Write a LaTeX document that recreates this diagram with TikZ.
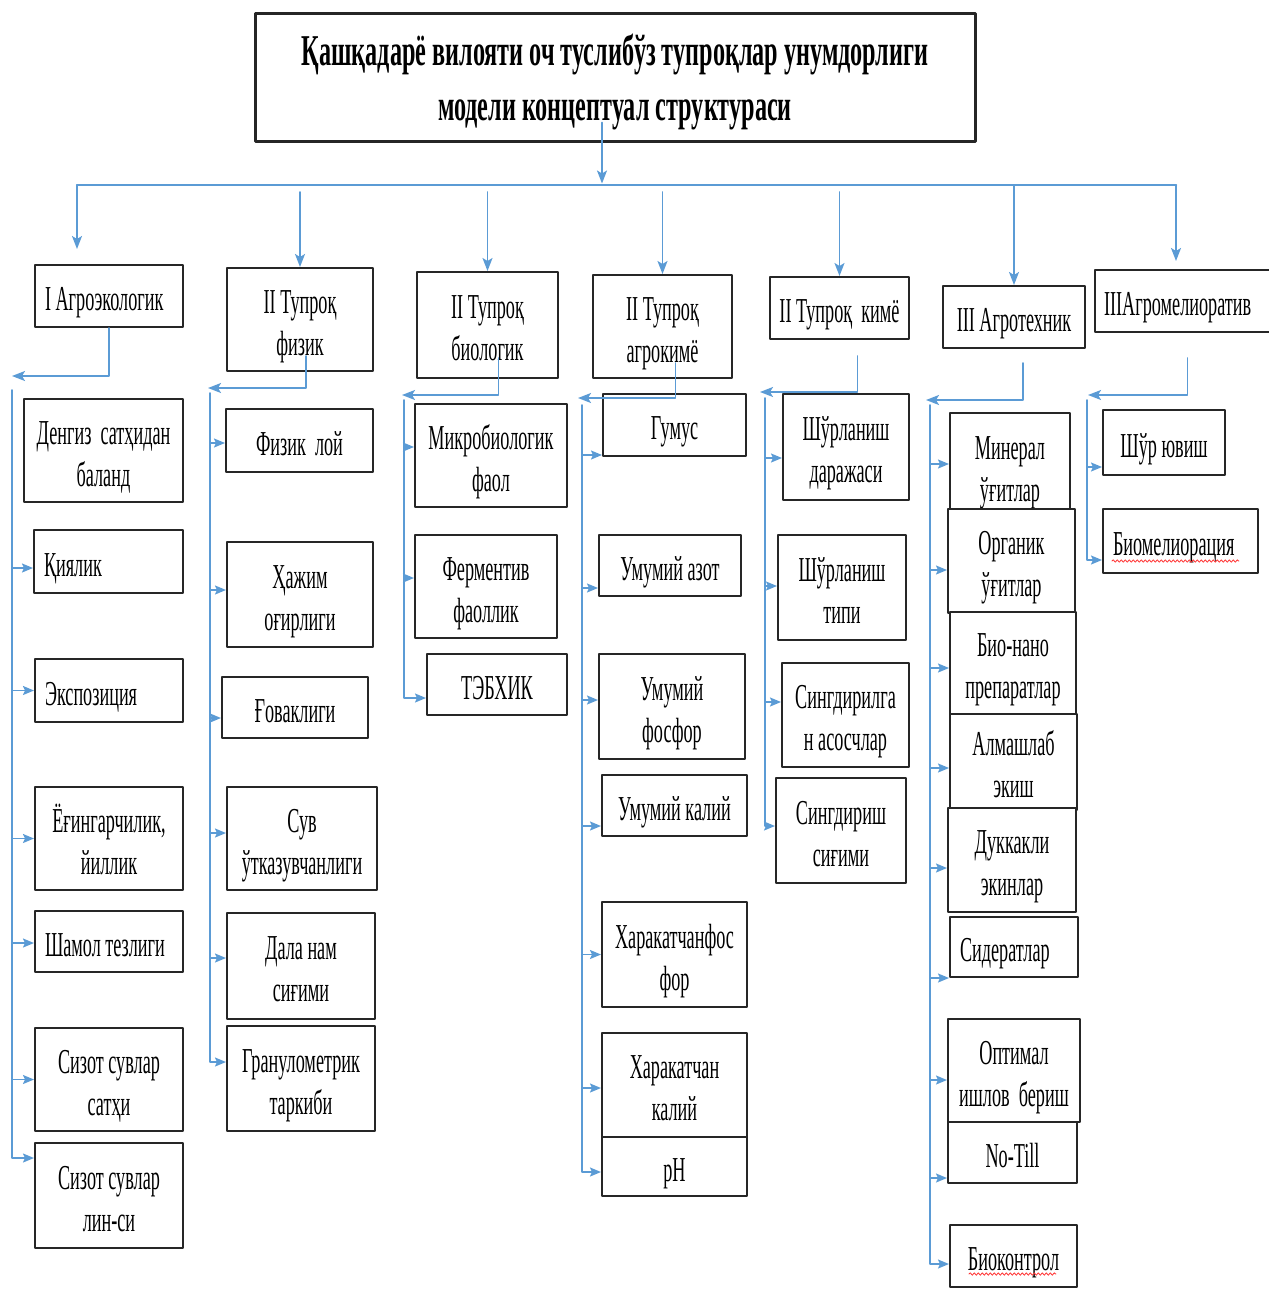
\documentclass[tikz,border=0pt]{standalone}
\usepackage{fontspec}
\setmainfont[FakeStretch=0.52]{Liberation Serif}
\newfontfamily\titlefam[FakeStretch=0.55]{Liberation Serif}
\usetikzlibrary{arrows.meta,calc,decorations.pathmorphing}
\definecolor{lnkblue}{RGB}{91,155,213}
\newcommand{\boxfont}{\fontsize{35}{42}\selectfont}
\newcommand{\headfont}{\titlefam\fontsize{44}{55}\selectfont\bfseries}

\begin{document}
\begin{tikzpicture}[line cap=round,line join=round,x=1pt,y=-1pt,
  >={Stealth[length=13pt,width=10pt,inset=3pt]},
  box/.style={draw=black!85,line width=2pt,fill=white,inner sep=2pt,align=center,font=\boxfont,
    execute at begin node={\rule{0pt}{37pt}},execute at end node={\rule[-8pt]{0pt}{0pt}}},
  two/.style={box,execute at begin node={\rule{0pt}{79pt}}},
  lbox/.style={box,align=flush left,inner xsep=10pt,text width=#1},
  link/.style={draw=lnkblue,line width=1.6pt},
  arr/.style={link,->},
  sarr/.style={link,-{Stealth[length=11pt,width=9pt,inset=2pt]}},
  wavy/.style={draw=red!80,line width=0.8pt,decorate,decoration={snake,amplitude=1.2pt,segment length=4pt}}]
	\useasboundingbox (0,0) rectangle (1269,1312);
	\clip (0,0) rectangle (1269,1312);
	% title and headings
	\node[box,line width=3pt,minimum width=720pt,minimum height=128pt,font=\headfont,
	  execute at begin node={\rule{0pt}{97pt}}] (title) at (615,77) {Қашқадарё вилояти оч туслибўз тупроқлар унумдорлиги\\модели концептуал структураси};
	\node[lbox=128pt,minimum height=62pt] (agroeco) at (109,296) {I Агроэкологик};
	\node[two,minimum width=146pt,minimum height=103pt] (tupfiz) at (300,319.5) {II Тупроқ\\физик};
	\node[two,minimum width=141pt,minimum height=106pt] (tupbio) at (487.5,325) {II Тупроқ\\биологик};
	\node[two,minimum width=139pt,minimum height=103pt] (tupagro) at (662.5,326.5) {II Тупроқ\\агрокимё};
	\node[box,minimum width=139pt,minimum height=62pt] (tupkim) at (839.5,308) {II Тупроқ\ \ кимё};
	\node[box,minimum width=142pt,minimum height=62pt] (agrotex) at (1014,317) {III Агротехник};
	\node[lbox=167pt,inner xsep=9pt,minimum height=62pt] (agromel) at (1187.5,301) {IIIАгромелиоратив};
	% I
	\node[two,minimum width=159pt,minimum height=103pt] (dengiz) at (103.5,450.5) {Денгиз\ \ сатҳидан\\баланд};
	\node[lbox=129pt,minimum height=63pt] (qiyalik) at (108.5,561.5) {Қиялик};
	\node[lbox=128pt,minimum height=63pt] (ekspoz) at (109,690.5) {Экспозиция};
	\node[two,minimum width=148pt,minimum height=103pt] (yogin) at (109,838.5) {Ёғингарчилик,\\йиллик};
	\node[lbox=128pt,minimum height=61pt] (shamol) at (109,941.5) {Шамол тезлиги};
	\node[two,minimum width=148pt,minimum height=103pt] (sizotA) at (109,1079.5) {Сизот сувлар\\сатҳи};
	\node[two,minimum width=148pt,minimum height=105pt] (sizotB) at (109,1195.5) {Сизот сувлар\\лин-си};
	% II physical
	\node[box,minimum width=147pt,minimum height=63pt] (fizlo) at (299.5,440.5) {Физик\ \ лой};
	\node[two,minimum width=146pt,minimum height=105pt] (hajm) at (300,594.5) {Ҳажим\\оғирлиги};
	\node[box,minimum width=146pt,minimum height=61pt] (govak) at (295,707.5) {Ғоваклиги};
	\node[two,minimum width=150pt,minimum height=103pt] (suv) at (302,838.5) {Сув\\ўтказувчанлиги};
	\node[two,minimum width=148pt,minimum height=106pt] (dala) at (301,966) {Дала нам\\сиғими};
	\node[two,minimum width=148pt,minimum height=105pt] (granulo) at (301,1078.5) {Гранулометрик\\таркиби};
	% II biological
	\node[two,minimum width=152pt,minimum height=103pt] (mikro) at (491,455.5) {Микробиологик\\фаол};
	\node[two,minimum width=142pt,minimum height=103pt] (ferment) at (486,586.5) {Ферментив\\фаоллик};
	\node[box,minimum width=140pt,minimum height=61pt] (tebhik) at (497,684.5) {ТЭБХИК};
	% II agrochemical
	\node[box,minimum width=143pt,minimum height=62pt] (gumus) at (674.5,425) {Гумус};
	\node[box,minimum width=142pt,minimum height=61pt] (azot) at (670,565.5) {Умумий азот};
	\node[two,minimum width=146pt,minimum height=105pt] (fosfor) at (672,706.5) {Умумий\\фосфор};
	\node[box,minimum width=145pt,minimum height=61pt] (kaliy) at (674.5,805.5) {Умумий калий};
	\node[two,minimum width=145pt,minimum height=105pt] (hfosfor) at (674.5,954.5) {Харакатчанфос\\фор};
	\node[two,minimum width=145pt,minimum height=104pt] (hkaliy) at (674.5,1085) {Харакатчан\\калий};
	\node[box,minimum width=145pt,minimum height=59pt] (ph) at (674.5,1166.5) {pH};
	% II chemical
	\node[two,minimum width=126pt,minimum height=106pt] (shdaraja) at (846,447) {Шўрланиш\\даражаси};
	\node[two,minimum width=128pt,minimum height=105pt] (shtip) at (842,587.5) {Шўрланиш\\типи};
	\node[two,minimum width=127pt,minimum height=104pt] (singasos) at (845.5,715) {Сингдирилга\\н асосчлар};
	\node[two,minimum width=130pt,minimum height=105pt] (singsig) at (841,830.5) {Сингдириш\\сиғими};
	% III agrotechnical
	\node[two,minimum width=120pt,minimum height=105pt] (mineral) at (1010,465.5) {Минерал\\ўғитлар};
	\node[two,minimum width=127pt,minimum height=104pt] (organik) at (1011.5,561) {Органик\\ўғитлар};
	\node[two,minimum width=126pt,minimum height=102pt] (bionano) at (1013,663) {Био-нано\\препаратлар};
	\node[two,minimum width=127pt,minimum height=96pt] (almash) at (1013.5,762) {Алмашлаб\\экиш};
	\node[two,minimum width=128pt,minimum height=104pt] (dukkak) at (1012,860) {Дуккакли\\экинлар};
	\node[lbox=108pt,minimum height=60pt] (sider) at (1014,947) {Сидератлар};
	\node[two,minimum width=132pt,minimum height=103pt] (optimal) at (1014,1070.5) {Оптимал\\ишлов\ \ бериш};
	\node[box,minimum width=129pt,minimum height=61pt] (notill) at (1012.5,1152.5) {No-Till};
	\node[box,minimum width=127pt,minimum height=62pt] (biokont) at (1013.5,1256) {Биоконтрол};
	% III amelioration
	\node[box,minimum width=122pt,minimum height=65pt] (shuryuv) at (1164,442.5) {Шўр ювиш};
	\node[lbox=135pt,minimum height=64pt] (biomel) at (1180.5,541) {Биомелиорация};
	\draw[wavy] ($(biomel.south west)+(10,-13)$) -- ++(127,0);
	\draw[wavy] ($(biokont.south west)+(20,-14)$) -- ++(87,0);
	% trunk and bus
	\coordinate (busL) at (77,185);
	\coordinate (busR) at (1176,185);
	\coordinate (busD) at (0,192);
	\draw[arr] ([xshift=-13pt,yshift=20pt]title.south) -- ([xshift=-13pt,yshift=-41pt]title.south);
	\draw[link,line width=2.5pt] (busL) -- (busR);
	\draw[arr] (busL) -- ([xshift=-32pt,yshift=15pt]agroeco.north);
	\draw[arr] (busD -| tupfiz.north) -- (tupfiz.north);
	\draw[arr] (busD -| tupbio.north) -- (tupbio.north);
	\draw[arr] (busD -| tupagro.north) -- (tupagro.north);
	\draw[arr] (busD -| tupkim.north) -- (tupkim.north);
	\draw[arr] (busL -| agrotex.north) -- (agrotex.north);
	\draw[arr] (busR) -- ([xshift=-11.5pt,yshift=8pt]agromel.north);
	% branches
	\coordinate (r1) at (12,376);
	\coordinate (r2) at (208,388);
	\coordinate (r3) at (402,395);
	\coordinate (r4) at (578,398);
	\coordinate (r5) at (760,392);
	\coordinate (r6) at (926,400);
	\coordinate (r7) at (1088,395);
	\draw[arr] (agroeco.south) |- (r1);
	\draw[arr] ([xshift=6pt,yshift=16pt]tupfiz.south) |- (r2);
	\draw[arr] ([xshift=11pt,yshift=21pt]tupbio.south) |- (r3);
	\draw[arr] ([xshift=13pt,yshift=16pt]tupagro.south) |- (r4);
	\draw[arr] ([xshift=18pt,yshift=-16pt]tupkim.south) |- (r5);
	\draw[arr] ([xshift=9pt,yshift=-14pt]agrotex.south) |- (r6);
	\draw[arr] ([yshift=-25pt]agromel.south) |- (r7);
	% rails
	\coordinate (v1) at (12,390);
	\coordinate (v2) at (210,393);
	\coordinate (v3) at (404,400);
	\coordinate (v4) at (582,405);
	\coordinate (v5) at (765,398);
	\coordinate (v6) at (930,405);
	\coordinate (v7) at (1087,400);
	\draw[sarr] (v1) |- ($(sizotB.west)+(0,-37.5)$);
	\draw[sarr] (v2) |- ($(granulo.west)+(0,-16.5)$);
	\draw[sarr] (v3) |- ($(tebhik.west)+(0,13.5)$);
	\draw[sarr] (v4) |- ($(ph.west)+(0,5.5)$);
	\draw[sarr] (v5) |- ($(singsig.west)+(0,-4.5)$);
	\draw[sarr] (v6) |- ($(biokont.west)+(0,8)$);
	\draw[sarr] (v7) |- ($(biomel.west)+(0,19)$);
	\foreach \n/\d in {qiyalik/6.5,ekspoz/0,yogin/0,shamol/1.5,sizotA/0}
		\draw[sarr] ($(\n.west -| v1)+(0,\d)$) -- ($(\n.west)+(0,\d)$);
	\foreach \n/\d in {fizlo/2.5,hajm/-4.5,govak/10.5,suv/-5.5,dala/-8}
		\draw[sarr] ($(\n.west -| v2)+(0,\d)$) -- ($(\n.west)+(0,\d)$);
	\foreach \n/\d in {mikro/-8.5,ferment/-8.5}
		\draw[sarr] ($(\n.west -| v3)+(0,\d)$) -- ($(\n.west)+(0,\d)$);
	\foreach \n/\d in {gumus/30,azot/22.5,fosfor/-6.5,kaliy/20.5,hfosfor/0,hkaliy/3}
		\draw[sarr] ($(\n.west -| v4)+(0,\d)$) -- ($(\n.west)+(0,\d)$);
	\foreach \n/\d in {shdaraja/11,shtip/-1.5,singasos/-13}
		\draw[sarr] ($(\n.west -| v5)+(0,\d)$) -- ($(\n.west)+(0,\d)$);
	\foreach \n/\d in {mineral/-1.5,organik/9,bionano/5,almash/6,dukkak/8,sider/31,optimal/9.5,notill/25.5}
		\draw[sarr] ($(\n.west -| v6)+(0,\d)$) -- ($(\n.west)+(0,\d)$);
	\foreach \n/\d in {shuryuv/24.5}
		\draw[sarr] ($(\n.west -| v7)+(0,\d)$) -- ($(\n.west)+(0,\d)$);
\end{tikzpicture}
\end{document}
